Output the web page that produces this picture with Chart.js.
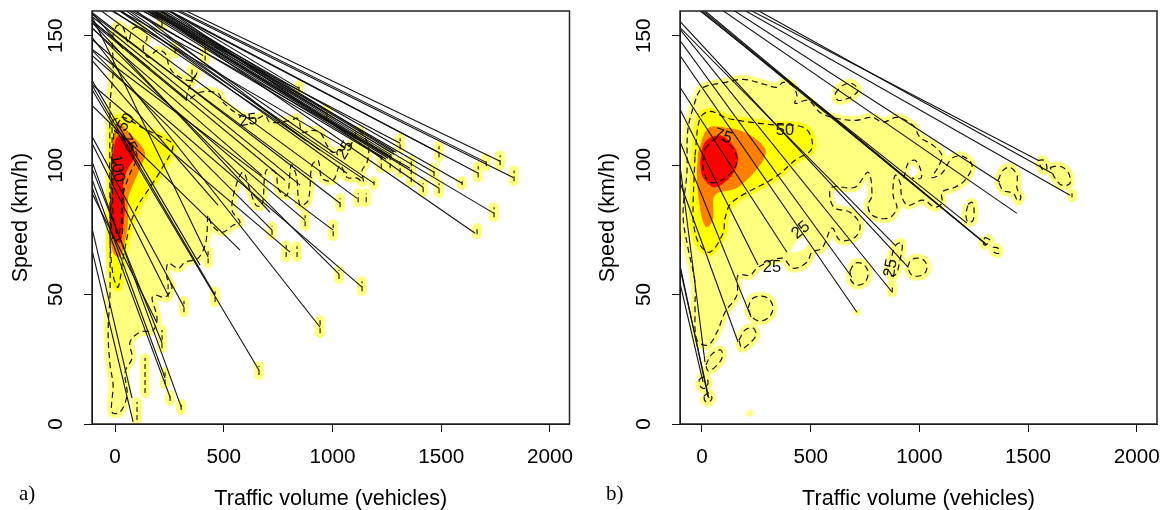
<!DOCTYPE html>
<html>
<head>
<meta charset="utf-8">
<title>Speed and traffic volume</title>
<script src="https://cdn.jsdelivr.net/npm/chart.js@4"></script>
<style>
    body { margin: 0; background: #fff; }
    canvas { position: absolute; top: 0; }
    #chartA { left: 0; }
    #chartB { left: 585px; }
    .panel-tag { position: absolute; top: 481px; font: 21px "Liberation Serif", serif; color: #000; }
</style>
</head>
<body>
<canvas id="chartA" width="585" height="510"></canvas>
<canvas id="chartB" width="580" height="510"></canvas>
<div class="panel-tag" style="left:19px">a)</div>
<div class="panel-tag" style="left:606px">b)</div>
<script>
const xTicks = [0, 500, 1000, 1500, 2000];
const yTicks = [0, 50, 100, 150];

// Panel a: trajectories, [volume, speed]
const aLineStart = [[317,160],[276,160],[290,160],[244,160],[235,160],[198,160],[179,160],[170,160],[161,160],[244,160],[170,160],[138,160],[69,160],[14,160],[-14,160],[-69,160],[-106,142.4],[-106,159],[23,160],[83,160],[-106,149.4],[-106,129.3],[-106,144.8],[-106,153.2],[-106,131.2],[-106,144.4],[-106,148.6],[-106,130.9],[-106,157.5],[-106,111.2],[-106,108.5],[-106,89.2],[-106,98.8],[-106,94.6],[-106,91.5],[-106,101.5],[-106,67.2],[-106,75.7],[115,160],[14,160],[244,160],[207,160],[-106,155.2],[-106,155.9],[-106,159],[-106,155.2],[-106,140.5],[-106,123.1],[92,160],[46,160],[60,160],[-106,158.3],[-106,157.5],[-106,155.9],[-106,152.9],[-23,160],[152,160],[-106,132.8],[124,160],[138,160],[152,160],[166,160],[179,160],[193,160],[207,160],[221,160]];
const aLineEnd = [[1771,101.5],[1831,95.3],[1707,101.1],[1670,96.9],[1486,105],[1596,93],[1467,97.3],[1743,81.4],[1490,91.1],[1417,91.5],[1656,73.7],[1311,108.5],[1357,98.8],[1191,93],[1136,95],[1113,87.2],[1136,52.9],[1035,85.3],[1067,96.9],[1233,102.7],[943,37.4],[662,20.8],[1003,74.9],[1030,57.9],[805,66.4],[722,74.9],[874,78.7],[460,49.8],[428,64.5],[317,45.2],[244,49.8],[193,39],[216,31.3],[230,17.8],[253,10.4],[304,6.6],[83,0.8],[78,10],[216,156],[405,142.4],[846,129.7],[975,120],[713,81.8],[161,137.4],[37,145.1],[331,125],[474,84.5],[575,67.2],[874,109.6],[943,105.8],[1003,105],[906,95],[851,92.3],[782,94.2],[676,96.1],[1058,106.9],[1090,111.6],[391,61.4],[1247,102.3],[1256,102.7],[1265,103.1],[1274,103.1],[1274,103.8],[1283,104.2],[1283,105],[1293,105]];

// Panel a: density contours, [volume, speed]
const aContour25 = [[-14,149],[9,154],[37,153.2],[60,147.5],[83,152.9],[124,152.9],[147,149.4],[129,145.5],[152,141.7],[193,144.4],[230,143.2],[253,137.4],[299,133.9],[354,132.8],[377,135.9],[345,130.9],[331,125.1],[391,128.2],[474,127.8],[497,124.3],[575,119.3],[653,118.1],[690,119.3],[713,116.6],[805,117.3],[842,118.1],[860,112.7],[906,113.5],[943,112.7],[975,107.7],[1003,105],[1081,107.7],[1118,113.5],[1164,107.7],[1159,101.1],[1136,98],[1141,93.4],[1113,95],[1067,95.3],[1035,100],[1003,94.2],[952,95],[934,101.9],[906,100],[888,86.5],[851,84.5],[833,96.1],[810,100],[791,88.4],[754,90.3],[736,97.3],[695,98],[676,84.5],[649,84.5],[621,90.3],[589,97.3],[557,92.3],[538,82.6],[575,78],[543,76.8],[492,74.1],[446,76.8],[428,80.7],[423,74.1],[414,69.1],[382,64.1],[322,62.5],[290,60.2],[244,62.1],[239,56.4],[262,52.9],[230,49],[184,49.8],[170,48.6],[193,40.9],[175,36.3],[115,35.5],[69,31.7],[78,25.5],[46,20.1],[55,11.2],[23,4.6],[-14,4.6],[-9,15.1],[-23,22.8],[-32,35.5],[-23,51],[-23,123.1],[-9,135.9]];
const aContour50 = [[-14,117.3],[37,118.5],[129,114.3],[216,110.8],[267,107.7],[216,98.8],[161,91.5],[106,84.5],[69,76.8],[37,64.1],[14,52.9],[-9,57.5],[-23,73],[-14,100]];
const aBandOrange = [[-9,111.6],[14,116.6],[69,112.3],[138,105],[115,98.8],[78,91.5],[60,87.2],[60,79.5],[55,74.1],[23,64.5],[-9,66.4],[-23,74.1],[-18,80.7],[-14,97.3]];
const aBandRed = [[-9,105],[9,110.8],[55,110.4],[92,103.8],[60,98.8],[37,93],[46,84.5],[37,76.8],[23,69.9],[-9,73],[-23,79.5],[-14,89.6]];
const aContour75 = [[-5,113.5],[60,108.9],[101,103.8],[60,95],[32,86.5],[32,73],[-9,71],[-18,94.2]];
const aContour100 = [[-9,101.9],[32,96.1],[32,80.7],[14,73],[-9,80.7]];

// Panel a: small isolated patches
const aSpotVolume = [216,138,101,230,253,304,317,244,460,428,662,943,1030,1003,787,837,722,874,1136,1035,1118,1155,1191,1224,1265,1311,1362,1417,1490,1467,1490,1311,1596,1670,1707,1771,1835,1743,1665,846,975,216,276,414,354];
const aSpotLow = [29.3,12,1.5,15.4,8.9,5.4,43.2,49,47.1,62.1,18.9,35.1,56,72.6,64.5,64.5,73,76.4,51.3,83.8,85.7,85.7,92.3,98.8,98.8,96.9,93.4,89.6,89.2,95.7,103.1,106.2,92.3,95.3,99.6,100,93.8,79.9,73.3,128.5,118.5,153.6,143.2,140.5,132];
const aSpotHigh = [36.3,25.5,8.5,20,11.2,7.7,47.5,54.8,51.3,66.8,22.4,40.1,59.4,77.2,69.1,68.7,76.4,80.7,55.2,87.2,89.2,89.2,93.8,105.8,103.8,101.5,101.9,93,93,99.2,107.3,110.4,93.8,99.6,102.7,103.8,98,83.8,75.7,130.9,121.6,157.9,145.9,147,137];

const aLabelText = ['50', '75', '100', '25', '25'];
const aLabelVolume = [51, 60, 9, 612, 1058];
const aLabelSpeed = [116.6, 108.5, 98.8, 117.3, 105.8];
const aLabelAngle = [-55, 60, 80, -10, -60];

// Panel b: trajectories, [volume, speed]
const bLineStart = [[253,160],[193,160],[221,160],[92,160],[143,160],[0,160],[9,160],[-9,160],[-14,160],[-101,152.5],[-101,155.6],[-101,148.2],[-101,142.4],[-101,130.1],[-101,121.6],[-101,109.2],[-101,93.4],[-101,100],[-101,61.4],[-101,60.2],[-101,54.4],[-101,153.2]];
const bLineEnd = [[1610,96.9],[1693,88.4],[1546,101.9],[1449,81.4],[1371,93.4],[1302,69.9],[1306,69.5],[1311,69.1],[1219,77.6],[874,51],[948,60.6],[690,56.7],[713,43.2],[391,66.4],[258,61.4],[226,41.3],[166,31.7],[14,23.9],[28,10.4],[32,10],[5,16.2],[888,69.1]];

// Panel b: density contours, [volume, speed]
const bContour25 = [[-23,127],[5,130.1],[106,132],[189,133.2],[290,131.2],[345,130.1],[373,132],[414,130.9],[437,127],[428,123.9],[488,125.1],[543,120.4],[598,118.5],[704,117.3],[782,118.5],[833,116.6],[897,118.5],[971,115.4],[1003,110.8],[1063,107.7],[1104,103.8],[1086,99.2],[1058,95.3],[1104,96.9],[1150,102.7],[1201,103.4],[1242,100],[1210,94.2],[1164,91.5],[1104,89.6],[1104,85.3],[1072,83.8],[1017,86.5],[948,84.5],[920,87.6],[911,93.4],[888,96.1],[879,88.4],[897,83.4],[856,79.5],[782,80.7],[764,84.5],[782,88.4],[764,97.3],[704,91.5],[598,91.5],[589,87.2],[612,83.4],[681,81.8],[727,76.8],[704,72.2],[635,71],[598,75.7],[552,67.9],[506,66.4],[483,62.5],[419,60.2],[368,64.1],[258,60.6],[221,57.5],[166,57.5],[161,49.8],[106,43.2],[69,35.5],[28,30.5],[-23,32.4],[-32,44.8],[-32,54.8],[-64,67.9],[-87,80.7],[-69,97.3],[-64,114.3]];
const bContour50 = [[-32,103.8],[-9,118.1],[37,120.8],[120,118.1],[304,115.8],[474,114.3],[506,106.5],[428,101.9],[336,95.3],[138,85.7],[106,79.5],[97,73.7],[37,66.4],[-9,69.1],[-32,74.1],[-41,80.7]];
const bBandOrange = [[-18,105],[28,114.3],[106,114.6],[198,112.7],[290,106.5],[276,101.1],[166,91.5],[60,88.4],[51,79.5],[23,76],[0,79.5],[-23,94.2]];
const bBandRed = [[-9,101.1],[14,108.9],[83,111.6],[143,107.7],[166,102.7],[138,96.1],[60,91.5],[5,95.3]];
const bContour75 = [[14,106.5],[69,110.4],[138,106.9],[161,101.1],[106,95],[37,93.4],[5,98.8]];
const bHoleA = [[405,66.4],[442,71],[488,72.2],[478,68.3],[437,66.4]];
const bHoleB = [[948,97.3],[971,100],[994,97.3],[971,95.7]];
const bHoleBRing = [[929,95],[948,100.7],[980,101.9],[1007,98],[1007,95],[966,95]];
const bBlobs = [
    [[612,127.8],[649,130.9],[690,131.6],[718,128.9],[681,126.2],[626,125.1]],
    [[1362,94.2],[1385,98],[1417,99.2],[1449,96.1],[1449,91.1],[1467,87.6],[1454,86.1],[1431,89.2],[1385,90.3]],
    [[1224,84.9],[1242,85.7],[1251,83.4],[1247,78.7],[1224,78],[1214,80.7]],
    [[1601,99.2],[1647,99.6],[1684,97.3],[1693,93],[1656,92.3],[1624,95]],
    [[1546,101.9],[1573,101.9],[1587,98.8],[1569,98]],
    [[1302,72.2],[1325,71],[1302,69.1],[1293,70.3]],
    [[1339,68.3],[1362,67.9],[1366,66],[1343,66.4]],
    [[946,60.6],[961,63.3],[989,64.1],[1021,63.3],[1035,60.6],[1021,57.9],[989,57.1],[961,57.9]],
    [[681,59.1],[704,62.1],[741,61.8],[764,58.7],[750,54.8],[713,53.7],[685,55.6]],
    [[851,57.5],[865,62.5],[892,69.1],[920,69.9],[911,63.3],[888,57.5]],
    [[212,44.8],[230,48.3],[267,49.4],[308,48.3],[327,44.8],[308,41.3],[267,39.8],[230,41.3]],
    [[170,32.4],[198,36.3],[235,37.1],[248,34.4],[221,31.3],[184,29.3]],
    [[18,22.8],[46,27],[87,28.6],[92,25.5],[60,22],[28,20.5]],
    [[-14,17],[5,18.1],[28,16.6],[18,13.9],[-5,14.3]],
    [[9,10.8],[32,12],[46,10],[32,8.5],[14,8.9]]
];
const bSpotVolume = [1702, 875];
const bSpotLow = [87.6, 50.8];
const bSpotHigh = [89.2, 54];
const bDotVolume = [221, 713, 1702];
const bDotSpeed = [4.2, 43.2, 88.4];

const bLabelText = ['50', '75', '25', '25', '25'];
const bLabelVolume = [382, 97, 322, 455, 869];
const bLabelSpeed = [113.5, 111.2, 60.6, 74.9, 60.2];
const bLabelAngle = [0, 20, 0, -40, -80];

const PALE = '#FFFF80';
const YELLOW = '#FFFF00';
const ORANGE = '#FF8000';
const RED = '#FF0000';

const toXY = pts => pts.map(p => ({ x: p[0], y: p[1] }));
const closed = pts => toXY(pts.concat([pts[0]]));

// filled band, the wide border gives the soft rim outside the dashed line
function band(pts, color, rim, order) {
    return {
        data: closed(pts), order, fill: 'shape', backgroundColor: color,
        borderColor: color, borderWidth: rim, tension: 0.35, pointRadius: 0
    };
}

function dashed(data, order) {
    return {
        data, order, fill: false, borderColor: '#111', borderWidth: 1.2,
        borderDash: [6, 4], tension: 0.35, pointRadius: 0
    };
}

function spot(volume, low, high) {
    const data = toXY([[volume, low], [volume, high]]);
    return [
        {
            data, order: 48, fill: false, borderColor: PALE, borderWidth: 10,
            pointRadius: 5, pointBackgroundColor: PALE, pointBorderWidth: 0
        },
        { data, order: 10, fill: false, borderColor: '#111', borderWidth: 1.1, borderDash: [5, 3], pointRadius: 0 }
    ];
}

function trajectories(starts, ends) {
    return starts.map((s, i) => ({
        data: toXY([s, ends[i]]), order: 5, fill: false, borderColor: '#111', borderWidth: 1.1, pointRadius: 0
    }));
}

function panelPlugin(text, volume, speed, angle) {
    return {
        id: 'panelFrame',
        afterDraw(chart) {
            const { ctx, chartArea: a, scales } = chart;
            ctx.save();
            ctx.fillStyle = '#111';
            ctx.font = '16.5px "Liberation Sans"';
            ctx.textAlign = 'center';
            ctx.textBaseline = 'middle';
            text.forEach((t, i) => {
                ctx.save();
                ctx.translate(scales.x.getPixelForValue(volume[i]), scales.y.getPixelForValue(speed[i]));
                ctx.rotate(angle[i] * Math.PI / 180);
                ctx.fillText(t, 0, 0);
                ctx.restore();
            });
            ctx.strokeStyle = '#222';
            ctx.lineWidth = 1.5;
            ctx.strokeRect(a.left, a.top, a.right - a.left, a.bottom - a.top);
            ctx.restore();
        }
    };
}

function noPadding(axis) {
    axis.paddingTop = 0;
    axis.paddingBottom = 0;
    axis.paddingLeft = 0;
    axis.paddingRight = 0;
}

function makeChart(id, datasets, xMin, xMax, axisWidth, rightPad, yTitlePad, plugin) {
    const tickFont = { family: '"Liberation Sans"', size: 20.7 };
    const titleFont = { family: '"Liberation Sans"', size: 21.6, lineHeight: 1 };
    return new Chart(document.getElementById(id), {
        type: 'line',
        data: { datasets },
        plugins: [plugin],
        options: {
            responsive: false,
            animation: false,
            parsing: false,
            normalized: true,
            layout: { padding: { top: 11, right: rightPad, left: 0, bottom: 0 } },
            plugins: { legend: { display: false }, tooltip: { enabled: false } },
            scales: {
                x: {
                    type: 'linear', min: xMin, max: xMax,
                    afterBuildTicks: axis => { axis.ticks = xTicks.map(value => ({ value })); },
                    afterFit: axis => { axis.height = 86; noPadding(axis); },
                    grid: { drawOnChartArea: false, tickLength: 8, tickColor: '#111' },
                    border: { color: '#111' },
                    ticks: { autoSkip: false, maxRotation: 0, padding: 13, color: '#000', font: tickFont, callback: v => String(v) },
                    title: { display: true, text: 'Traffic volume (vehicles)', color: '#000', font: titleFont, padding: 0 }
                },
                y: {
                    type: 'linear', min: 0, max: 159.6,
                    afterBuildTicks: axis => { axis.ticks = yTicks.map(value => ({ value })); },
                    afterFit: axis => { axis.width = axisWidth; noPadding(axis); },
                    grid: { drawOnChartArea: false, tickLength: 8, tickColor: '#111' },
                    border: { color: '#111' },
                    ticks: { autoSkip: false, minRotation: 90, maxRotation: 90, crossAlign: 'center', padding: 10, color: '#000', font: tickFont, callback: v => String(v) },
                    title: { display: true, text: 'Speed (km/h)', color: '#000', font: titleFont, padding: { top: yTitlePad, bottom: 0 } }
                }
            }
        }
    });
}

const aDatasets = [
    band(aContour25, PALE, 9, 50),
    band(aContour50, YELLOW, 8, 40),
    band(aBandOrange, ORANGE, 0, 30),
    band(aBandRed, RED, 0, 20),
    dashed(closed(aContour25), 10),
    dashed(closed(aContour50), 10),
    dashed(closed(aContour75), 10),
    dashed(closed(aContour100), 10)
];
aSpotVolume.forEach((v, i) => aDatasets.push(...spot(v, aSpotLow[i], aSpotHigh[i])));
aDatasets.push(...trajectories(aLineStart, aLineEnd));

const bDatasets = [
    band(bContour25, PALE, 9, 50),
    band(bContour50, YELLOW, 8, 40),
    band(bBandOrange, ORANGE, 0, 30),
    band(bBandRed, RED, 0, 20),
    band(bHoleA, '#fff', 0, 45),
    band(bHoleB, '#fff', 0, 45),
    dashed(closed(bContour25), 10),
    dashed(closed(bContour50), 10),
    dashed(closed(bContour75), 10),
    dashed(toXY(bHoleBRing), 10)
];
bBlobs.forEach(b => bDatasets.push(band(b, PALE, 9, 48), dashed(closed(b), 10)));
bSpotVolume.forEach((v, i) => bDatasets.push(...spot(v, bSpotLow[i], bSpotHigh[i])));
bDatasets.push({
    data: toXY(bDotVolume.map((v, i) => [v, bDotSpeed[i]])), order: 47, showLine: false,
    pointRadius: 3.5, pointBackgroundColor: PALE, pointBorderWidth: 0
});
bDatasets.push(...trajectories(bLineStart, bLineEnd));

makeChart('chartA', aDatasets, -106, 2090, 92, 15.5, 10, panelPlugin(aLabelText, aLabelVolume, aLabelSpeed, aLabelAngle));
makeChart('chartB', bDatasets, -101, 2093, 95, 8, 12, panelPlugin(bLabelText, bLabelVolume, bLabelSpeed, bLabelAngle));
</script>
</body>
</html>
